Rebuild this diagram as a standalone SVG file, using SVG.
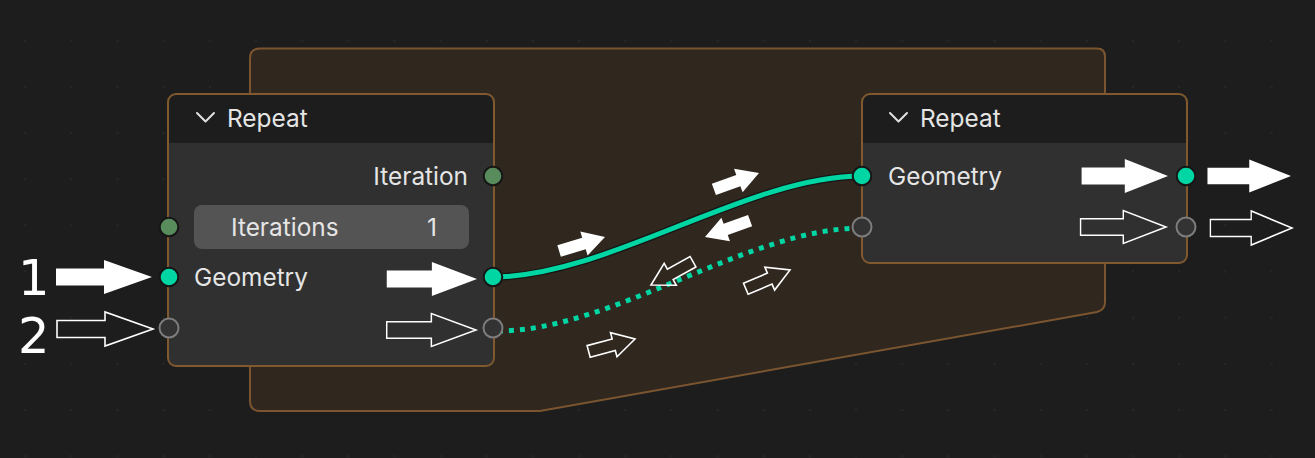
<svg xmlns="http://www.w3.org/2000/svg" xmlns:xlink="http://www.w3.org/1999/xlink" width="1315" height="458" viewBox="0 0 1315 458">
<style>
.txt{font-family:Inter,"Noto Sans","Liberation Sans",sans-serif;font-size:24.4px;fill:#e5e5e5}
.num{font-family:"DejaVu Sans","Liberation Sans",sans-serif;font-size:49.5px;fill:#ffffff}
.nodebody{fill:#303030}
.nodehead{fill:#1d1d1d}
.nodeborder{fill:none;stroke:#80592f;stroke-width:2}
.sock-geo{fill:#00d6a3;stroke:#161616;stroke-width:2}
.sock-int{fill:#598c5c;stroke:#161616;stroke-width:2}
.sock-empty{fill:#333333;stroke:#7d7d7d;stroke-width:2}
.chev{fill:none;stroke:#e0e0e0;stroke-width:2;stroke-linecap:round;stroke-linejoin:round}
.solid{fill:#ffffff}
.outline{fill:none;stroke:#ffffff;stroke-width:1.6;stroke-linejoin:miter}
</style>
<defs>
<pattern id="grid" x="25.2" y="40.7" width="46.16" height="46.16" patternUnits="userSpaceOnUse">
<rect x="-1" y="-1" width="2" height="2" fill="#282828"/>
<rect x="45.16" y="-1" width="2" height="2" fill="#282828"/>
<rect x="-1" y="45.16" width="2" height="2" fill="#282828"/>
<rect x="45.16" y="45.16" width="2" height="2" fill="#282828"/>
</pattern>
<path id="big" d="M-96,-8.5 H-48 V-17 L0,0 L-48,17 V8.5 H-96 Z"/>
<path id="small" d="M-48,-6 H-22 V-12.5 L0,0 L-22,12.5 V6 H-48 Z"/>
</defs>
<rect width="1315" height="458" fill="#1d1d1d"/>
<rect width="1315" height="458" fill="url(#grid)"/>

<g id="repeat-zone">
<path d="M260,48.5 H1097 Q1105,48.5 1105,56.5 V302 Q1105,310 1097,312 L540,411 H260 Q250,411 250,401 V58.5 Q250,48.5 260,48.5 Z" fill="#30271f" stroke="#7a5530" stroke-width="2"/>
</g>

<g id="connectors">
<path d="M493,277 C608,277 747,176 862,176" fill="none" stroke="#161616" stroke-width="7.5"/>
<path d="M493,277 C608,277 747,176 862,176" fill="none" stroke="#00d6a3" stroke-width="5"/>
<path d="M498,331 C612,331 748,228 862,228" fill="none" stroke="#00d6a3" stroke-width="5" stroke-dasharray="5 6"/>
</g>

<g id="node-repeat-input">
<rect class="nodebody" x="168" y="94" width="326" height="272" rx="8"/>
<path class="nodehead" d="M168,143 V102 Q168,94 176,94 H486 Q494,94 494,102 V143 Z"/>
<rect class="nodeborder" x="168" y="94" width="326" height="272" rx="8"/>
<polyline class="chev" points="197,113 205.5,121.5 214,113"/>
<text class="txt" x="227" y="127">Repeat</text>
<text class="txt" x="468" y="185" text-anchor="end">Iteration</text>
<rect x="194" y="205" width="275" height="44" rx="8" fill="#545454"/>
<text class="txt" x="231" y="236">Iterations</text>
<text class="txt" x="437" y="236" text-anchor="end">1</text>
<text class="txt" x="194" y="286">Geometry</text>
<circle class="sock-int" cx="493" cy="176" r="9.3"/>
<circle class="sock-int" cx="169" cy="227" r="9.3"/>
<circle class="sock-geo" cx="169" cy="277" r="9.3"/>
<circle class="sock-geo" cx="493" cy="277" r="9.3"/>
<circle class="sock-empty" cx="169" cy="328" r="9.5"/>
<circle class="sock-empty" cx="493" cy="328" r="9.5"/>
</g>

<g id="node-repeat-output">
<rect class="nodebody" x="862" y="94" width="325" height="169" rx="8"/>
<path class="nodehead" d="M862,143 V102 Q862,94 870,94 H1179 Q1187,94 1187,102 V143 Z"/>
<rect class="nodeborder" x="862" y="94" width="325" height="169" rx="8"/>
<polyline class="chev" points="890,113 898.5,121.5 907,113"/>
<text class="txt" x="920" y="127">Repeat</text>
<text class="txt" x="888" y="185">Geometry</text>
<circle class="sock-geo" cx="862" cy="176" r="9.3"/>
<circle class="sock-empty" cx="862" cy="227" r="9.5"/>
<circle class="sock-geo" cx="1186" cy="176" r="9.3"/>
<circle class="sock-empty" cx="1186" cy="227" r="9.5"/>
</g>

<g id="annotations">
<text class="num" x="18" y="294.5">1</text>
<text class="num" x="18" y="352.5">2</text>
<use xlink:href="#big" class="solid" transform="translate(152,277)"/>
<use xlink:href="#big" class="outline" transform="translate(153,329) scale(1,1)"/>
<use xlink:href="#big" class="solid" transform="translate(477,279) scale(0.94,1)"/>
<use xlink:href="#big" class="outline" transform="translate(476,330) scale(0.93,0.97)"/>
<use xlink:href="#big" class="solid" transform="translate(1168,176) scale(0.9,1)"/>
<use xlink:href="#big" class="solid" transform="translate(1291,176) scale(0.87,0.97)"/>
<use xlink:href="#big" class="outline" transform="translate(1166,227) scale(0.89,0.97)"/>
<use xlink:href="#big" class="outline" transform="translate(1292,228) scale(0.85,1)"/>
<use xlink:href="#small" class="solid" transform="translate(605,237) rotate(-17)"/>
<use xlink:href="#small" class="solid" transform="translate(759,173) rotate(-20)"/>
<use xlink:href="#small" class="solid" transform="translate(705,237) rotate(160)"/>
<use xlink:href="#small" class="outline" transform="translate(651,285) rotate(151)"/>
<use xlink:href="#small" class="outline" transform="translate(790,270) rotate(-23)"/>
<use xlink:href="#small" class="outline" transform="translate(635,339) rotate(-15)"/>
</g>
</svg>
